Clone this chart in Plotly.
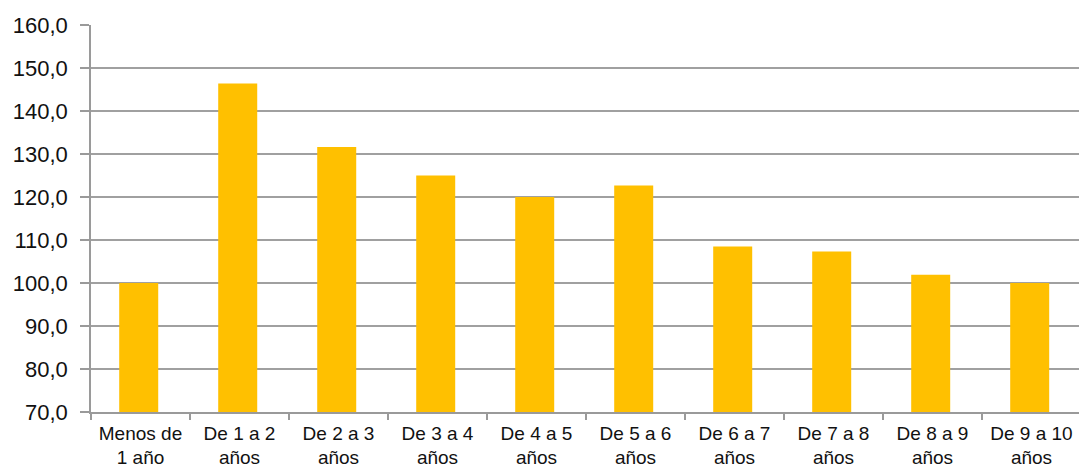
import plotly.graph_objects as go

# Categorías de antigüedad y valores del índice
categorias = [
    "Menos de<br>1 año", "De 1 a 2<br>años", "De 2 a 3<br>años", "De 3 a 4<br>años",
    "De 4 a 5<br>años", "De 5 a 6<br>años", "De 6 a 7<br>años", "De 7 a 8<br>años",
    "De 8 a 9<br>años", "De 9 a 10<br>años",
]
valores = [100.0, 146.4, 131.6, 125.0, 120.0, 122.7, 108.5, 107.3, 101.9, 100.0]
ticks_y = [70, 80, 90, 100, 110, 120, 130, 140, 150, 160]

fig = go.Figure(
    go.Bar(
        x=categorias,
        y=valores,
        base=0,
        width=0.394,
        offset=-0.215,
        marker=dict(color="#FFC000", line=dict(width=0)),
        hoverinfo="skip",
    )
)

fig.update_layout(
    width=1079,
    height=464,
    margin=dict(l=91, r=0, t=25, b=52),
    paper_bgcolor="white",
    plot_bgcolor="white",
    separators=",.",
    showlegend=False,
    font=dict(family="Liberation Sans, Arial, sans-serif", color="#111111"),
)

fig.update_xaxes(
    type="category",
    range=[-0.5, 9.48],
    automargin=False,
    showgrid=False,
    showline=True,
    linecolor="#9a9a9a",
    linewidth=1.5,
    ticks="outside",
    tickson="boundaries",
    ticklen=6,
    tickcolor="#9a9a9a",
    tickwidth=1.5,
    tickangle=0,
    tickfont=dict(size=19),
    ticklabelstandoff=3,
)

fig.update_yaxes(
    range=[70, 160],
    automargin=False,
    tickvals=ticks_y,
    tickformat=".1f",
    showgrid=True,
    gridcolor="#a0a0a0",
    gridwidth=1.5,
    showline=True,
    linecolor="#9a9a9a",
    linewidth=1.5,
    ticks="outside",
    ticklen=9,
    tickcolor="#9a9a9a",
    tickwidth=1.5,
    tickfont=dict(size=22),
    ticklabelstandoff=8,
    zeroline=False,
)

fig.write_html("out.html")
